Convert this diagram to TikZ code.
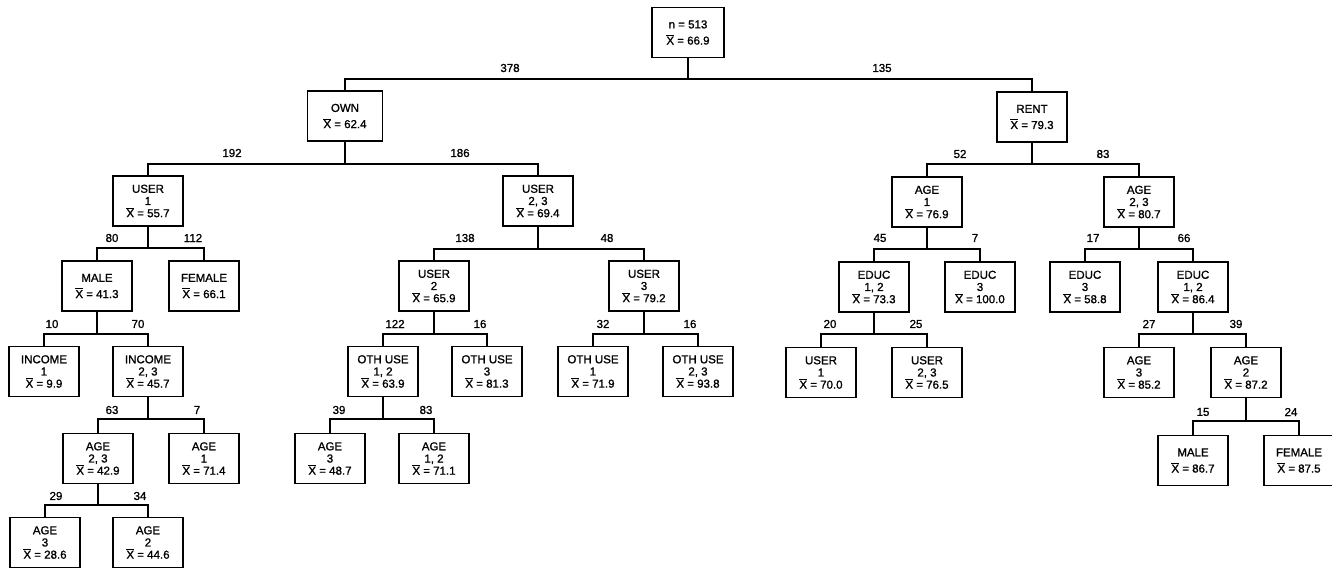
\documentclass[tikz,border=0pt]{standalone}
\usepackage{fontspec}
\setmainfont{Liberation Sans}[BoldFont={Liberation Sans}, BoldFeatures={FakeBold=1.2}]
\newcommand\xb{\ensuremath{\overline{\hbox{X}}}}
\newcommand\treebar[4]{%
  \coordinate (#1-bar) at (#1.south |- 0,#2);
  \draw[conn] (#1.south) -- (#1-bar);
  \draw[conn] (#3.north) |- (#1-bar) -| (#4.north);
}
\tikzset{
  box/.style={draw, line width=1.5pt, minimum width=70pt, minimum height=50pt,
    align=center, inner sep=0pt, font=\fontsize{11.5}{12.2}\selectfont\bfseries},
  cnt/.style={font=\fontsize{11.5}{12}\selectfont\bfseries, inner sep=0pt},
  conn/.style={line width=1.5pt},
}
\begin{document}
\begin{tikzpicture}[x=1pt,y=-1pt]
\useasboundingbox (0,0) rectangle (1332,569);
% level 0
\node[box, minimum width=72pt] (root) at (688,32.5) {n = 513\\[4pt]\xb{} = 66.9};
% level 1
\node[box, minimum width=75pt] (own) at (345,116) {OWN\\[4pt]\xb{} = 62.4};
\node[box] (rent) at (1032,117) {RENT\\[4pt]\xb{} = 79.3};
% level 2
\node[box] (u1) at (148,201) {USER\\1\\\xb{} = 55.7};
\node[box] (u23) at (538,201) {USER\\2, 3\\\xb{} = 69.4};
\node[box] (a1) at (927,202) {AGE\\1\\\xb{} = 76.9};
\node[box] (a23) at (1139,202) {AGE\\2, 3\\\xb{} = 80.7};
% level 3
\node[box] (male) at (97,286) {MALE\\[4pt]\xb{} = 41.3};
\node[box] (female) at (204,286) {FEMALE\\[4pt]\xb{} = 66.1};
\node[box] (u2) at (434,286) {USER\\2\\\xb{} = 65.9};
\node[box] (u3) at (644,286) {USER\\3\\\xb{} = 79.2};
\node[box] (e12) at (874,287) {EDUC\\1, 2\\\xb{} = 73.3};
\node[box] (e3) at (980,287) {EDUC\\3\\\xb{} = 100.0};
\node[box] (e3r) at (1085,287) {EDUC\\3\\\xb{} = 58.8};
\node[box] (e12r) at (1193,287) {EDUC\\1, 2\\\xb{} = 86.4};
% level 4
\node[box] (inc1) at (44,371.5) {INCOME\\1\\\xb{} = 9.9};
\node[box] (inc23) at (148,371.5) {INCOME\\2, 3\\\xb{} = 45.7};
\node[box] (o12) at (383,371.5) {OTH USE\\1, 2\\\xb{} = 63.9};
\node[box] (o3) at (487,371.5) {OTH USE\\3\\\xb{} = 81.3};
\node[box] (o1) at (593,371.5) {OTH USE\\1\\\xb{} = 71.9};
\node[box] (o23) at (698,371.5) {OTH USE\\2, 3\\\xb{} = 93.8};
\node[box] (us1) at (821,372.5) {USER\\1\\\xb{} = 70.0};
\node[box] (us23) at (927,372.5) {USER\\2, 3\\\xb{} = 76.5};
\node[box] (ag3) at (1139,372.5) {AGE\\3\\\xb{} = 85.2};
\node[box] (ag2) at (1246,372.5) {AGE\\2\\\xb{} = 87.2};
% level 5
\node[box] (a23l) at (98,458.5) {AGE\\2, 3\\\xb{} = 42.9};
\node[box] (a1l) at (204,458.5) {AGE\\1\\\xb{} = 71.4};
\node[box] (ag3m) at (330,458.5) {AGE\\3\\\xb{} = 48.7};
\node[box] (ag12m) at (434,458.5) {AGE\\1, 2\\\xb{} = 71.1};
\node[box] (male2) at (1193,460.5) {MALE\\[4pt]\xb{} = 86.7};
\node[box] (fem2) at (1299,460.5) {FEMALE\\[4pt]\xb{} = 87.5};
% level 6
\node[box] (ag3l) at (45,542.5) {AGE\\3\\\xb{} = 28.6};
\node[box] (ag2l) at (148,542.5) {AGE\\2\\\xb{} = 44.6};
% connectors
\treebar{root}{79}{own}{rent}
\treebar{own}{164}{u1}{u23}
\treebar{rent}{164}{a1}{a23}
\treebar{u1}{248}{male}{female}
\treebar{u23}{249}{u2}{u3}
\treebar{a1}{249}{e12}{e3}
\treebar{a23}{249}{e3r}{e12r}
\treebar{male}{334}{inc1}{inc23}
\treebar{u2}{334}{o12}{o3}
\treebar{u3}{334}{o1}{o23}
\treebar{e12}{334}{us1}{us23}
\treebar{e12r}{334}{ag3}{ag2}
\treebar{inc23}{419}{a23l}{a1l}
\treebar{o12}{419}{ag3m}{ag12m}
\treebar{ag2}{421}{male2}{fem2}
\treebar{a23l}{505}{ag3l}{ag2l}
% counts
\node[cnt] (c378) at (510,68) {378};
\node[cnt] (c135) at (882,68) {135};
\node[cnt] (c192) at (232,153) {192};
\node[cnt] (c186) at (460,153) {186};
\node[cnt] (c52) at (960,154) {52};
\node[cnt] (c83a) at (1103,154) {83};
\node[cnt] (c80) at (112,238) {80};
\node[cnt] (c112) at (193,238) {112};
\node[cnt] (c138) at (465,238) {138};
\node[cnt] (c48) at (607,238) {48};
\node[cnt] (c45) at (880,238) {45};
\node[cnt] (c7a) at (975,238) {7};
\node[cnt] (c17) at (1093,238) {17};
\node[cnt] (c66) at (1184,238) {66};
\node[cnt] (c10) at (52,324) {10};
\node[cnt] (c70) at (138,324) {70};
\node[cnt] (c122) at (395,324) {122};
\node[cnt] (c16a) at (480,324) {16};
\node[cnt] (c32) at (603,324) {32};
\node[cnt] (c16b) at (690,324) {16};
\node[cnt] (c20) at (830,324) {20};
\node[cnt] (c25) at (916,324) {25};
\node[cnt] (c27) at (1149,324) {27};
\node[cnt] (c39a) at (1236,324) {39};
\node[cnt] (c63) at (112,410) {63};
\node[cnt] (c7b) at (197,410) {7};
\node[cnt] (c39b) at (339,410) {39};
\node[cnt] (c83b) at (426,410) {83};
\node[cnt] (c15) at (1203,412) {15};
\node[cnt] (c24) at (1291,412) {24};
\node[cnt] (c29) at (56,496) {29};
\node[cnt] (c34) at (140,496) {34};
\end{tikzpicture}
\end{document}
